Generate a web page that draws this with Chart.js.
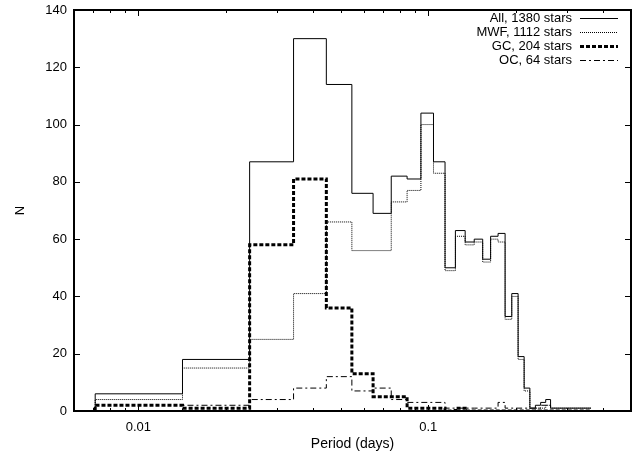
<!DOCTYPE html>
<html>
<head>
<meta charset="utf-8">
<script src="https://cdn.jsdelivr.net/npm/chart.js@4.4.0/dist/chart.umd.min.js"></script>
<style>
  html, body { margin: 0; padding: 0; background: #fff; }
</style>
</head>
<body>
<canvas id="chart" width="638" height="453"></canvas>
<script>
// bin edges in days (each count runs from binEdges[i] to binEdges[i+1])
const binEdges = [0.0071, 0.0142, 0.0242, 0.0343, 0.0445, 0.0545, 0.0645, 0.0745, 0.0845, 0.0943,
                  0.1042, 0.1142, 0.1240, 0.1340, 0.1440, 0.1540, 0.1640, 0.1740, 0.1840, 0.1940,
                  0.2040, 0.2140, 0.2240, 0.2340, 0.2440, 0.2540, 0.2640, 0.3640];

const allStars = [6, 18, 87, 130, 114, 76, 69, 82, 81, 104,
                  87, 50, 63, 59, 60, 53, 61, 62, 33, 41,
                  19, 8, 1, 2, 3, 4, 1];
const mwfStars = [4, 15, 25, 41, 66, 56, 56, 73, 77, 100,
                  83, 49, 61, 58, 59, 52, 60, 59, 32, 40,
                  18, 7, 0, 1, 1, 2, 1];
const gcStars  = [2, 1, 58, 81, 36, 13, 5, 5, 1, 1,
                  1, 0, 1, 0, 0, 0, 0, 0, 0, 0,
                  0, 0, 0, 0, 0, 0, 0];
const ocStars  = [0, 2, 4, 8, 12, 7, 8, 4, 3, 3,
                  3, 1, 1, 1, 1, 1, 1, 3, 1, 1,
                  1, 1, 1, 1, 2, 2, 0];

const seriesLabels = ['All, 1380 stars', 'MWF, 1112 stars', 'GC, 204 stars', 'OC, 64 stars'];

const yTickValues = [0, 20, 40, 60, 80, 100, 120, 140];
const xTickLabels = [0.01, 0.1];
const xMinorTicks = [0.007, 0.008, 0.009, 0.02, 0.03, 0.04, 0.05, 0.06, 0.07, 0.08, 0.09, 0.2, 0.3, 0.4];

const FONT = '"Liberation Sans", Arial, Helvetica, sans-serif';

// turn bin counts into step points
function toSteps(counts) {
    const pts = [{ x: binEdges[0], y: 0 }];
    counts.forEach((c, i) => pts.push({ x: binEdges[i], y: c }));
    pts.push({ x: binEdges[counts.length], y: counts[counts.length - 1] });
    return pts;
}

const lineStyles = [
    { width: 1, dash: [] },
    { width: 1, dash: [1, 1] },
    { width: 3, dash: [4, 2] },
    { width: 1, dash: [6, 3, 2, 3] }
];

// gnuplot style frame with inward ticks
const frameTicks = {
    id: 'frameTicks',
    afterDatasetsDraw(chart) {
        const { ctx, chartArea: a, scales: { x, y } } = chart;
        ctx.save();
        ctx.strokeStyle = '#000';
        ctx.lineWidth = 1;
        ctx.beginPath();
        yTickValues.forEach(v => {
            const py = Math.round(y.getPixelForValue(v)) + 0.5;
            ctx.moveTo(a.left, py); ctx.lineTo(a.left + 6, py);
            ctx.moveTo(a.right, py); ctx.lineTo(a.right - 6, py);
        });
        xTickLabels.forEach(v => {
            const px = Math.round(x.getPixelForValue(v)) + 0.5;
            ctx.moveTo(px, a.bottom); ctx.lineTo(px, a.bottom - 6);
            ctx.moveTo(px, a.top); ctx.lineTo(px, a.top + 6);
        });
        xMinorTicks.forEach(v => {
            const px = Math.round(x.getPixelForValue(v)) + 0.5;
            ctx.moveTo(px, a.bottom); ctx.lineTo(px, a.bottom - 3);
            ctx.moveTo(px, a.top); ctx.lineTo(px, a.top + 3);
        });
        ctx.stroke();
        ctx.lineWidth = 2;
        ctx.strokeRect(a.left, a.top, a.right - a.left, a.bottom - a.top);
        ctx.restore();
    }
};

// legend: text right aligned, line sample to the right
const stepLegend = {
    id: 'stepLegend',
    afterDraw(chart) {
        const { ctx } = chart;
        ctx.save();
        ctx.font = '13px ' + FONT;
        ctx.fillStyle = '#000';
        ctx.textAlign = 'right';
        ctx.textBaseline = 'middle';
        seriesLabels.forEach((label, i) => {
            const ly = 18 + i * 14;
            ctx.fillText(label, 572, ly);
            const st = lineStyles[i];
            ctx.lineWidth = st.width;
            ctx.setLineDash(st.dash);
            ctx.strokeStyle = '#000';
            ctx.beginPath();
            ctx.moveTo(580, ly + 0.5);
            ctx.lineTo(618, ly + 0.5);
            ctx.stroke();
        });
        ctx.restore();
    }
};

new Chart(document.getElementById('chart'), {
    type: 'line',
    data: {
        datasets: [allStars, mwfStars, gcStars, ocStars].map((counts, i) => ({
            label: seriesLabels[i],
            data: toSteps(counts),
            stepped: true,
            borderColor: '#000',
            borderWidth: lineStyles[i].width,
            borderDash: lineStyles[i].dash,
            pointRadius: 0,
            fill: false
        }))
    },
    options: {
        responsive: false,
        animation: false,
        devicePixelRatio: 1,
        layout: { padding: { left: 0, right: 7, top: 10, bottom: 0 } },
        plugins: {
            legend: { display: false },
            tooltip: { enabled: false }
        },
        scales: {
            x: {
                type: 'logarithmic',
                min: 0.006,
                max: 0.5,
                grid: { display: false, drawTicks: false },
                border: { display: false },
                afterBuildTicks: (s) => { s.ticks = xTickLabels.map(v => ({ value: v })); },
                afterFit: (s) => { s.height = 42; s.paddingLeft = 0; s.paddingRight = 0; },
                ticks: {
                    autoSkip: false,
                    maxRotation: 0,
                    padding: 9,
                    color: '#000',
                    font: { family: FONT, size: 13 },
                    callback: (v) => String(v)
                },
                title: {
                    display: true,
                    text: 'Period (days)',
                    color: '#000',
                    padding: { top: 0, bottom: 0 },
                    font: { family: FONT, size: 14 }
                }
            },
            y: {
                min: 0,
                max: 140,
                grid: { display: false, drawTicks: false },
                border: { display: false },
                afterBuildTicks: (s) => { s.ticks = yTickValues.map(v => ({ value: v })); },
                afterFit: (s) => { s.width = 74; s.paddingTop = 0; s.paddingBottom = 0; },
                ticks: {
                    padding: 7,
                    color: '#000',
                    font: { family: FONT, size: 13 }
                },
                title: {
                    display: true,
                    text: 'N',
                    color: '#000',
                    padding: { top: 13, bottom: 13 },
                    font: { family: FONT, size: 13 }
                }
            }
        }
    },
    plugins: [frameTicks, stepLegend]
});
</script>
</body>
</html>
